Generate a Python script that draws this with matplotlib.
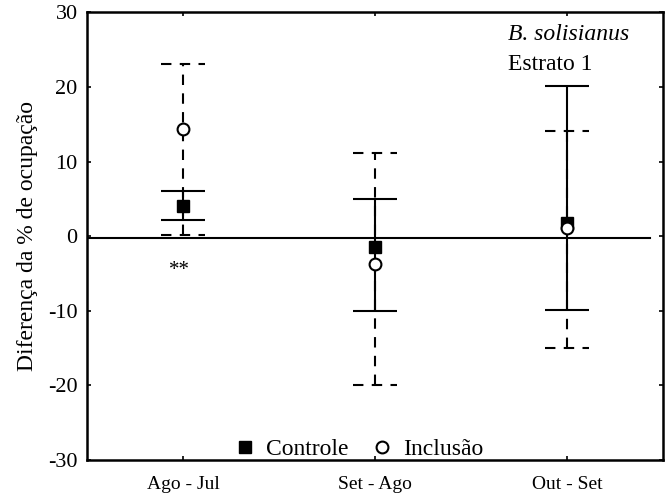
import numpy as np
import matplotlib
matplotlib.use("Agg")
import matplotlib.pyplot as plt

plt.rcParams['font.family'] = ['Liberation Serif', 'DejaVu Serif']
plt.rcParams['axes.unicode_minus'] = False

periodos = ['Ago - Jul', 'Set - Ago', 'Out - Set']
controle = [4.1, -1.5, 1.8]
controle_sup = [6.0, 5.0, 20.1]
controle_inf = [2.1, -10.0, -9.9]
inclusao = [14.3, -3.7, 1.1]
inclusao_sup = [23.1, 11.1, 14.1]
inclusao_inf = [0.2, -20.0, -15.0]

x = np.arange(1, len(periodos) + 1)
cap = 0.115
dash = (0, (5, 4))

fig = plt.figure(figsize=(6.72, 4.97), dpi=100)
ax = fig.add_axes([0.13, 0.075, 0.857, 0.9])

# linha do zero
ax.plot([0.5, 3.43], [-0.25, -0.25], color='black', lw=1.5, zorder=1)

# inclusao (tracejado)
ax.vlines(x, inclusao_inf, inclusao_sup, colors='black', lw=1.5, linestyles=dash, zorder=2)
ax.hlines(inclusao_sup, x - cap, x + cap, colors='black', lw=1.5, linestyles=dash, zorder=2)
ax.hlines(inclusao_inf, x - cap, x + cap, colors='black', lw=1.5, linestyles=dash, zorder=2)

# controle (continuo)
ax.vlines(x, controle_inf, controle_sup, colors='black', lw=1.5, zorder=3)
ax.hlines(controle_sup, x - cap, x + cap, colors='black', lw=1.5, zorder=3)
ax.hlines(controle_inf, x - cap, x + cap, colors='black', lw=1.5, zorder=3)

ax.plot(x, controle, 's', color='black', ms=9, zorder=4, label='Controle')
ax.plot(x, inclusao, 'o', mfc='white', mec='black', mew=1.5, ms=8.5, zorder=5, label='Inclusão')

ax.text(0.98, -4.6, '**', ha='center', va='center', fontsize=15)
ax.text(2.69, 27.0, 'B. solisianus', style='italic', fontsize=17, ha='left', va='center')
ax.text(2.69, 23.0, 'Estrato 1', fontsize=17, ha='left', va='center')

ax.set_xlim(0.5, 3.5)
ax.set_ylim(-30, 30)
ax.set_xticks(x)
ax.set_xticklabels(periodos, fontsize=14)
ax.set_yticks(np.arange(-30, 31, 10))
ax.tick_params(axis='y', labelsize=16, pad=7)
ax.tick_params(axis='x', pad=12)
ax.tick_params(direction='in', top=True, right=True, length=3, width=1.2)
ax.set_ylabel('Diferença da % de ocupação', fontsize=17, labelpad=7)
for s in ax.spines.values():
    s.set_linewidth(1.8)

ax.legend(loc='lower center', ncol=2, frameon=False, fontsize=17, handletextpad=0.3,
          columnspacing=0.8, borderaxespad=0.0, bbox_to_anchor=(0.468, -0.012),
          handlelength=1.2, borderpad=0.2)

fig.savefig('out.png', dpi=100)
